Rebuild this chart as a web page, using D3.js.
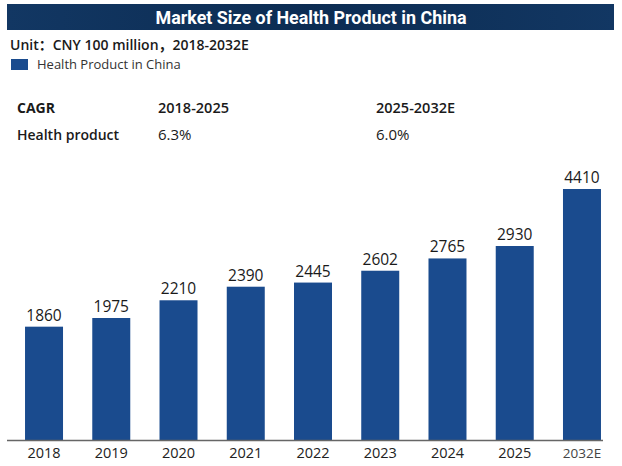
<!DOCTYPE html>
<html>
<head>
<meta charset="utf-8">
<script src="https://cdn.jsdelivr.net/npm/d3@7"></script>
<style>
  body { margin: 0; background: #fff; }
  text { font-family: "Open Sans", "Noto Sans", "Noto Sans CJK SC", sans-serif; }
</style>
</head>
<body>
<div id="chart"></div>
<script>
// chart data
const years = ["2018", "2019", "2020", "2021", "2022", "2023", "2024", "2025", "2032E"];
const marketSize = [1860, 1975, 2210, 2390, 2445, 2602, 2765, 2930, 4410];
const cagrPeriods = ["2018-2025", "2025-2032E"];
const cagrValues = ["6.3%", "6.0%"];

const width = 622, height = 466;
const baseline = 440;

const svg = d3.select("#chart")
    .append("svg")
    .attr("width", width)
    .attr("height", height);

// title banner
const grad = svg.append("defs").append("linearGradient")
    .attr("id", "titleGrad").attr("x1", 0).attr("x2", 1);
grad.append("stop").attr("offset", "0%").attr("stop-color", "#123763");
grad.append("stop").attr("offset", "50%").attr("stop-color", "#0c2c52");
grad.append("stop").attr("offset", "100%").attr("stop-color", "#123763");

svg.append("rect")
    .attr("x", 7).attr("y", 4)
    .attr("width", 607).attr("height", 26)
    .attr("fill", "url(#titleGrad)");

svg.append("text")
    .attr("x", 311).attr("y", 23.5)
    .attr("text-anchor", "middle")
    .attr("fill", "#fff")
    .style("font-family", "Roboto, sans-serif")
    .style("font-weight", 700)
    .style("font-size", "18px")
    .attr("textLength", 311)
    .attr("lengthAdjust", "spacingAndGlyphs")
    .text("Market Size of Health Product in China");

// unit + legend
svg.append("text")
    .attr("x", 10).attr("y", 49.5)
    .attr("fill", "#1a1a1a")
    .style("font-weight", 600)
    .style("font-size", "14px")
    .text("Unit：CNY 100 million，2018-2032E");

svg.append("rect")
    .attr("x", 11).attr("y", 59)
    .attr("width", 17).attr("height", 11)
    .attr("fill", "#1a4b8e");

svg.append("text")
    .attr("x", 37).attr("y", 68.5)
    .attr("fill", "#333")
    .style("font-size", "13px")
    .text("Health Product in China");

// CAGR table
const cagrCols = [158, 376];
svg.append("text")
    .attr("x", 17).attr("y", 113)
    .attr("fill", "#1a1a1a")
    .style("font-weight", 700)
    .style("font-size", "14px")
    .text("CAGR");
svg.append("text")
    .attr("x", 17).attr("y", 140)
    .attr("fill", "#1a1a1a")
    .style("font-weight", 600)
    .style("font-size", "14px")
    .text("Health product");

svg.selectAll(".cagr-period")
    .data(cagrPeriods)
    .enter().append("text")
    .attr("class", "cagr-period")
    .attr("x", (d, i) => cagrCols[i]).attr("y", 113)
    .attr("fill", "#1a1a1a")
    .style("font-weight", 600)
    .style("font-size", "14.5px")
    .text(d => d);

svg.selectAll(".cagr-value")
    .data(cagrValues)
    .enter().append("text")
    .attr("class", "cagr-value")
    .attr("x", (d, i) => cagrCols[i]).attr("y", 140)
    .attr("fill", "#1a1a1a")
    .style("font-size", "15px")
    .text(d => d);

// scales
const x = d3.scaleBand()
    .domain(years)
    .range([10.4, 615.6])
    .paddingInner(0.435)
    .paddingOuter(0.2175);

// bars in the original are not drawn strictly to scale (the forecast bar is compressed),
// so a piecewise linear scale is used
const y = d3.scaleLinear()
    .domain([357, 2930, 4410])
    .range([baseline, 246, 189]);

// bars
svg.selectAll(".bar")
    .data(marketSize)
    .enter().append("rect")
    .attr("class", "bar")
    .attr("x", (d, i) => x(years[i]))
    .attr("y", d => y(d))
    .attr("width", x.bandwidth())
    .attr("height", d => baseline - y(d))
    .attr("fill", "#1a4b8e");

// value labels
svg.selectAll(".val")
    .data(marketSize)
    .enter().append("text")
    .attr("class", "val")
    .attr("x", (d, i) => x(years[i]) + x.bandwidth() / 2)
    .attr("y", d => y(d) - 6)
    .attr("text-anchor", "middle")
    .attr("fill", "#1a1a1a")
    .style("font-size", "15.5px")
    .text(d => d);

// x axis
const xAxis = svg.append("g")
    .attr("transform", "translate(0," + baseline + ")")
    .call(d3.axisBottom(x).tickSize(0).tickPadding(8));
xAxis.select(".domain")
    .attr("d", "M7,0.5H603")
    .attr("stroke", "#666")
    .attr("stroke-width", 1.5);
xAxis.selectAll(".tick text")
    .attr("fill", "#222")
    .style("font-family", "'Open Sans', sans-serif")
    .style("font-size", "14.5px");
xAxis.selectAll(".tick text")
    .filter(d => d === "2032E")
    .attr("fill", "#444")
    .style("font-size", "13.5px");
</script>
</body>
</html>
